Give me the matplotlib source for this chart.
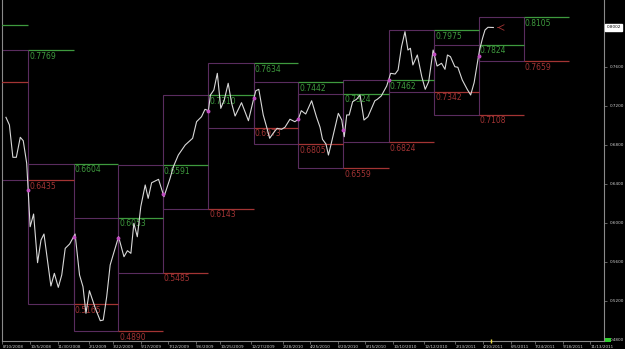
import pandas as pd
import numpy as np
import matplotlib
matplotlib.use('Agg')
import matplotlib.pyplot as plt
import matplotlib.dates as mdates
from matplotlib.patches import Rectangle
from matplotlib.transforms import blended_transform_factory

# weekly closes
dates = ['2008-08-17', '2008-08-24', '2008-08-31', '2008-09-07', '2008-09-15', '2008-09-21',
         '2008-09-28', '2008-10-05', '2008-10-12', '2008-10-20', '2008-10-27', '2008-11-02',
         '2008-11-16', '2008-11-23', '2008-12-01', '2008-12-08', '2008-12-15', '2008-12-24',
         '2009-01-04', '2009-01-13', '2009-01-20', '2009-01-26', '2009-02-02', '2009-02-14',
         '2009-02-24', '2009-03-02', '2009-03-09', '2009-03-16', '2009-03-24', '2009-04-02',
         '2009-04-13', '2009-04-20', '2009-04-27', '2009-05-03', '2009-05-10', '2009-05-17',
         '2009-05-26', '2009-06-01', '2009-06-08', '2009-06-22', '2009-07-03', '2009-07-15',
         '2009-07-22', '2009-08-01', '2009-08-15', '2009-08-30', '2009-09-07', '2009-09-17',
         '2009-09-24', '2009-10-01', '2009-10-05', '2009-10-12', '2009-10-19', '2009-10-26',
         '2009-11-02', '2009-11-10', '2009-11-17', '2009-11-24', '2009-12-07', '2009-12-14',
         '2009-12-21', '2009-12-31', '2010-01-05', '2010-01-11', '2010-01-20', '2010-01-27',
         '2010-02-02', '2010-02-09', '2010-02-17', '2010-02-26', '2010-03-05', '2010-03-15',
         '2010-03-25', '2010-04-01', '2010-04-07', '2010-04-16', '2010-04-28', '2010-05-08',
         '2010-05-15', '2010-05-20', '2010-05-27', '2010-06-01', '2010-06-06', '2010-06-21',
         '2010-06-28', '2010-07-03', '2010-07-08', '2010-07-13', '2010-07-20', '2010-07-28',
         '2010-08-04', '2010-08-12', '2010-08-20', '2010-09-03', '2010-09-08', '2010-09-16',
         '2010-09-27', '2010-10-05', '2010-10-14', '2010-10-20', '2010-10-27', '2010-11-03',
         '2010-11-09', '2010-11-14', '2010-11-19', '2010-11-28', '2010-12-07', '2010-12-14',
         '2010-12-21', '2010-12-30', '2011-01-07', '2011-01-16', '2011-01-23', '2011-01-28',
         '2011-02-03', '2011-02-12', '2011-02-18', '2011-02-27', '2011-03-09', '2011-03-16',
         '2011-03-23', '2011-03-30', '2011-04-03', '2011-04-09', '2011-04-14', '2011-04-20',
         '2011-05-01']
closes = [0.7081, 0.7002, 0.6671, 0.6671, 0.6876, 0.6841,
          0.6609, 0.5959, 0.6089, 0.5590, 0.5823, 0.5884,
          0.5351, 0.5481, 0.5337, 0.5464, 0.5737, 0.5782,
          0.5884, 0.5464, 0.5344, 0.5071, 0.5303, 0.5122,
          0.4995, 0.5002, 0.5241, 0.5566, 0.5703, 0.5856,
          0.5651, 0.5713, 0.5686, 0.5994, 0.5856, 0.6164,
          0.6387, 0.6250, 0.6410, 0.6445, 0.6267, 0.6450,
          0.6574, 0.6694, 0.6797, 0.6866, 0.7036, 0.7087,
          0.7163, 0.7149, 0.7310, 0.7361, 0.7532, 0.7173,
          0.7258, 0.7430, 0.7225, 0.7094, 0.7231, 0.7139,
          0.7046, 0.7258, 0.7354, 0.7368, 0.7105, 0.6979,
          0.6866, 0.6917, 0.6968, 0.6958, 0.6979, 0.7061,
          0.7036, 0.7061, 0.7149, 0.7115, 0.7251, 0.7081,
          0.6979, 0.6855, 0.6807, 0.6694, 0.6797, 0.7122,
          0.7053, 0.6882, 0.7105, 0.7105, 0.7241, 0.7266,
          0.7310, 0.7053, 0.7087, 0.7251, 0.7266, 0.7300,
          0.7402, 0.7532, 0.7525, 0.7566, 0.7805, 0.7959,
          0.7771, 0.7789, 0.7618, 0.7720, 0.7498, 0.7368,
          0.7446, 0.7771, 0.7607, 0.7635, 0.7573, 0.7720,
          0.7703, 0.7600, 0.7594, 0.7464, 0.7368, 0.7310,
          0.7436, 0.7651, 0.7771, 0.7891, 0.7976, 0.8004,
          0.8002]
last_price = 0.8002

# quarterly high / low
quarters = ['2008Q2', '2008Q3', '2008Q4', '2009Q1', '2009Q2', '2009Q3', '2009Q4',
            '2010Q1', '2010Q2', '2010Q3', '2010Q4', '2011Q1', '2011Q2']
q_high = [0.8028, 0.7769, 0.6604, 0.6053, 0.6591, 0.7310, 0.7634,
          0.7442, 0.7324, 0.7462, 0.7975, 0.7824, 0.8105]
q_low = [0.7443, 0.6435, 0.5165, 0.4890, 0.5485, 0.6143, 0.6973,
         0.6805, 0.6559, 0.6824, 0.7342, 0.7108, 0.7659]

tick_dates = ['8/10/2008', '10/5/2008', '11/30/2008', '2/1/2009', '3/22/2009', '5/17/2009',
              '7/12/2009', '9/6/2009', '10/25/2009', '12/27/2009', '2/28/2010', '4/25/2010',
              '6/20/2010', '8/15/2010', '10/10/2010', '12/12/2010', '2/13/2011', '4/10/2011',
              '6/5/2011', '7/24/2011', '9/18/2011', '11/13/2011']
y_ticks = [0.48, 0.52, 0.56, 0.60, 0.64, 0.68, 0.72, 0.76]

BOX = '#5a2c5e'
GREEN = '#3e9a3e'
RED = '#a33434'
AXC = '#8a8a8a'

fig = plt.figure(figsize=(6.25, 3.49), dpi=100, facecolor='black')
ax = fig.add_axes([2 / 625, 8 / 349, 602 / 625, 341 / 349])
ax.set_facecolor('black')

dt = pd.to_datetime(dates)
xmin, xmax = pd.Timestamp('2008-08-09'), pd.Timestamp('2011-12-11')
ax.set_xlim(xmin, xmax)
ax.set_ylim(0.4787, 0.8284)

periods = pd.PeriodIndex(quarters, freq='Q')
starts = periods.start_time
nexts = (periods + 1).start_time
nexts2 = (periods + 2).start_time
day = pd.Timedelta(days=1)

for s, e, e2, hi, lo in zip(starts, nexts, nexts2, q_high, q_low):
    x0 = mdates.date2num(s)
    ax.add_patch(Rectangle((x0, lo), mdates.date2num(e) - x0, hi - lo,
                           fill=False, ec=BOX, lw=0.8, zorder=2))
    ax.hlines(hi, e, e2, color=GREEN, lw=0.9, zorder=3)
    ax.hlines(lo, e, e2, color=RED, lw=0.9, zorder=3)
    if e >= xmin:
        ax.text(e + 2 * day, hi - 0.0016, f'{hi:.4f}', color=GREEN, fontsize=5.5,
                va='top', ha='left', zorder=4)
        ax.text(e + 2 * day, lo - 0.0016, f'{lo:.4f}', color=RED, fontsize=5.5,
                va='top', ha='left', zorder=4)

ax.plot(dt, closes, color='#d8d8d8', lw=0.8, zorder=5)

# purple dots where the line enters each quarter
qx = mdates.date2num(starts[1:])
qy = np.interp(qx, mdates.date2num(dt), closes)
ax.plot(mdates.num2date(qx), qy, 'o', color='#c04cc0', ms=1.8, zorder=6)

# end-of-line arrow
ax.annotate('', xy=(dt[-1] + 3 * day, last_price), xytext=(dt[-1] + 15 * day, last_price),
            arrowprops=dict(arrowstyle='->', color=RED, lw=0.6), zorder=6)

# axes styling
for side in ['top']:
    ax.spines[side].set_visible(False)
for side in ['left', 'right', 'bottom']:
    ax.spines[side].set_color(AXC)
    ax.spines[side].set_linewidth(0.8)

ax.yaxis.tick_right()
ax.set_yticks(y_ticks)
ax.set_yticklabels([f'{v:.4f}' for v in y_ticks])
ax.tick_params(axis='y', colors=AXC, labelcolor='#d0d0d0', labelsize=3, length=2.5,
               width=0.5, pad=1.5)

ax.set_xticks(pd.to_datetime(tick_dates, format='%m/%d/%Y'))
ax.set_xticklabels(tick_dates)
ax.tick_params(axis='x', colors=AXC, labelcolor='#d0d0d0', labelsize=3, length=2,
               width=0.5, pad=1)
for lab in ax.get_xticklabels():
    lab.set_ha('left')

# current price tag on the right axis
tr = blended_transform_factory(ax.transAxes, ax.transData)
ax.text(1.004, last_price, f'{last_price:.4f}', transform=tr, fontsize=3, color='black',
        va='center', ha='left', clip_on=False,
        bbox=dict(boxstyle='square,pad=0.25', fc='white', ec='white'))

# marker for last bar on the time axis
trx = blended_transform_factory(ax.transData, ax.transAxes)
ax.plot([dt[-1] - 4 * day], [0], marker='|', color='#f0e040', ms=3, mew=1,
        transform=trx, clip_on=False, zorder=7)

fig.patches.append(Rectangle((605 / 625, 7 / 349), 6 / 625, 4 / 349, transform=fig.transFigure,
                             fc='#30d030', ec='none'))

fig.savefig('out.png', dpi=100, facecolor='black')
